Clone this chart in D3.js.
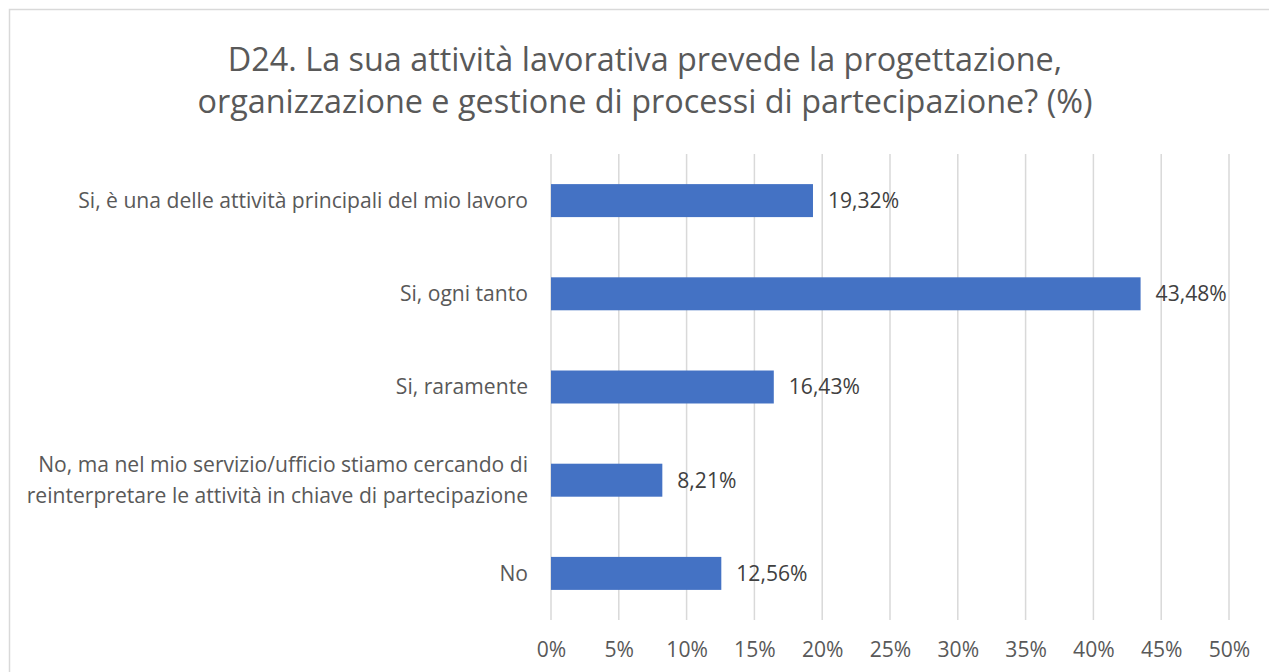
<!DOCTYPE html>
<html>
<head>
<meta charset="utf-8">
<script src="https://cdn.jsdelivr.net/npm/d3@7"></script>
<style>
  body { margin: 0; background: #fff; }
  text { font-family: "Open Sans", sans-serif; }
</style>
</head>
<body>
<div id="chart"></div>
<script>
// data
var titleLines = ["D24. La sua attività lavorativa prevede la progettazione,",
                  "organizzazione e gestione di processi di partecipazione? (%)"];
var categories = [
  ["Si, è una delle attività principali del mio lavoro"],
  ["Si, ogni tanto"],
  ["Si, raramente"],
  ["No, ma nel mio servizio/ufficio stiamo cercando di", "reinterpretare le attività in chiave di partecipazione"],
  ["No"]
];
var values = [19.32, 43.48, 16.43, 8.21, 12.56];
var ticks = [0, 5, 10, 15, 20, 25, 30, 35, 40, 45, 50];

var W = 1269, H = 672,
    margin = {top: 154, right: 40, bottom: 52, left: 551},
    width = 1229 - margin.left,
    height = H - margin.top - margin.bottom;

var svg = d3.select('#chart').append('svg')
  .attr('width', W).attr('height', H);

// pick a font size so a string gets the width it has in the picture (Calibri is not installed)
function fitSize(str, target) {
  var t = svg.append('text').style('font-size', '100px').text(str);
  var w = t.node().getComputedTextLength();
  t.remove();
  return 100 * target / w;
}
var titleSize = fitSize(titleLines[0], 835);
var labelSize = fitSize(categories[0][0], 450);

// chart frame
svg.append('rect')
  .attr('x', 9.5).attr('y', 9.5)
  .attr('width', W + 20).attr('height', H + 20)
  .attr('fill', 'none').attr('stroke', '#d9d9d9').attr('stroke-width', 1.5);

// title
svg.selectAll('.title').data(titleLines).enter()
  .append('text').attr('class', 'title')
  .attr('x', 645).attr('y', (d, i) => 71 + i * 42)
  .attr('text-anchor', 'middle')
  .style('font-size', titleSize + 'px').style('fill', '#595959')
  .text(d => d);

var g = svg.append('g').attr('transform', 'translate(' + margin.left + ',' + margin.top + ')');

var x = d3.scaleLinear().domain([0, 50]).range([0, width]);
var y = d3.scaleBand().domain(d3.range(values.length)).range([0, height]).paddingInner(0.646).paddingOuter(0.323);

// gridlines
g.selectAll('.grid').data(ticks).enter()
  .append('line').attr('class', 'grid')
  .attr('x1', d => x(d)).attr('x2', d => x(d))
  .attr('y1', 0).attr('y2', height)
  .attr('stroke', '#d9d9d9').attr('stroke-width', 1.5);

// x axis labels
var xAxis = g.append('g')
  .attr('transform', 'translate(0,' + height + ')')
  .call(d3.axisBottom(x).tickValues(ticks).tickSize(0).tickFormat(d => d + '%'));
xAxis.select('.domain').remove();
xAxis.selectAll('text')
  .attr('dy', null).attr('y', 37)
  .style('font-size', labelSize + 'px').style('fill', '#595959').style('font-family', '"Open Sans", sans-serif');

// bars
g.selectAll('.bar').data(values).enter()
  .append('rect').attr('class', 'bar')
  .attr('x', x(0))
  .attr('y', (d, i) => y(i))
  .attr('width', d => x(d) - x(0))
  .attr('height', y.bandwidth())
  .attr('fill', '#4472c4');

// value labels
g.selectAll('.val').data(values).enter()
  .append('text').attr('class', 'val')
  .attr('x', d => x(d) + 15)
  .attr('y', (d, i) => y(i) + y.bandwidth() / 2)
  .attr('dy', '0.35em')
  .style('font-size', labelSize + 'px').style('fill', '#404040')
  .text(d => d.toFixed(2).replace('.', ',') + '%');

// category labels, wrapped ones as tspans
var cat = g.selectAll('.cat').data(categories).enter()
  .append('text').attr('class', 'cat')
  .attr('text-anchor', 'end')
  .attr('x', -23)
  .attr('y', (d, i) => y(i) + y.bandwidth() / 2)
  .style('font-size', labelSize + 'px').style('fill', '#595959');
cat.selectAll('tspan').data(d => d.map((t, j) => ({t: t, j: j, n: d.length}))).enter()
  .append('tspan')
  .attr('x', -23)
  .attr('dy', d => d.j === 0 ? (0.35 - (d.n - 1) * 0.725) + 'em' : '1.45em')
  .text(d => d.t);
</script>
</body>
</html>
